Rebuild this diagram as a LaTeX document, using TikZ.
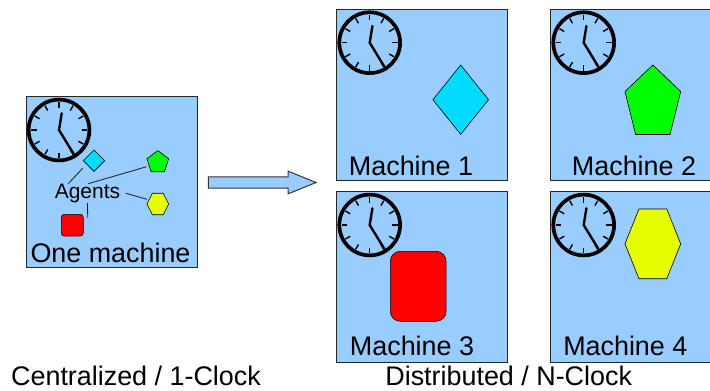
\documentclass[tikz,border=0pt]{standalone}
\usepackage{fontspec}
\usepackage{xcolor}
\setmainfont{Liberation Sans}
\usetikzlibrary{shapes.geometric,shapes.arrows,shapes.misc}
\definecolor{boxblue}{HTML}{99CCFF}
\definecolor{agentcyan}{HTML}{00DCFF}
\definecolor{agentgreen}{HTML}{00FF00}
\definecolor{agentred}{HTML}{FF0000}
\definecolor{agentyellow}{HTML}{E6FF00}
\tikzset{
	machineBox/.style={draw=black!85,fill=boxblue,line width=1pt,minimum size=171pt,inner sep=0pt,outer sep=0pt},
	bigText/.style={anchor=base,inner sep=0pt,font=\fontsize{26.9pt}{30pt}\selectfont},
	agentsText/.style={anchor=base,inner sep=0pt,font=\fontsize{21pt}{25pt}\selectfont},
	agentShape/.style={draw=black,line width=0.6pt,inner sep=0pt,outer sep=0pt},
	polyShape/.style={agentShape,regular polygon,regular polygon sides=#1},
	clockface/.pic={
		\draw[line width=3.7pt] (0,0) circle (30.4pt);
		\foreach \a in {0,30,...,330}
			\draw[line width=1.4pt] (\a:22.5pt) -- (\a:28pt);
		\draw[line width=2.4pt,line cap=round] (2.7,-16.7) -- (0,0) -- (14.7,24);
	}
}
\begin{document}
\begin{tikzpicture}[x=1pt,y=-1pt]
			\useasboundingbox (0,0) rectangle (710,391);
			\clip (0,0) rectangle (710,391);
			% machine boxes
			\node[machineBox] (One) at (111.5,181.7) {};
			\node[machineBox] (M1) at (422.2,94.7) {};
			\node[machineBox] (M2) at (635.5,94.7) {};
			\node[machineBox] (M3) at (422.2,276.7) {};
			\node[machineBox] (M4) at (635.5,276.7) {};
			%
			\foreach \cx/\cy in {59/130,369.7/42.7,583.7/42.7,369.7/225,583.7/225}
				\pic at (\cx,\cy) {clockface};
			%
			\node[agentShape,fill=agentcyan,diamond,minimum width=21.3pt,minimum height=21.3pt] (agentDiamond) at (94,160.7) {};
			\node[polyShape=5,fill=agentgreen,minimum size=22.8pt,yscale=1.02,transform shape] (agentPentagon) at (157.8,162.3) {};
			\node[polyShape=6,fill=agentyellow,minimum size=21.7pt,yscale=1.14,transform shape] (agentHexagon) at (157.8,204) {};
			\node[agentShape,fill=agentred,rectangle,rounded corners=3pt,minimum width=22pt,minimum height=21.7pt] (agentSquare) at (72.3,225.2) {};
			%
			\node[agentShape,fill=agentcyan,diamond,minimum width=55.6pt,minimum height=69.3pt] (bigDiamond) at (460.7,99.7) {};
			\node[polyShape=5,fill=agentgreen,minimum size=58.6pt,yscale=1.31,transform shape] (bigPentagon) at (652.85,103.4) {};
			\node[agentShape,fill=agentred,rectangle,rounded corners=10pt,minimum width=55.7pt,minimum height=70pt] (bigSquare) at (418.2,286.3) {};
			\node[polyShape=6,fill=agentyellow,minimum size=55.7pt,yscale=1.445,transform shape] (bigHexagon) at (652.85,243.85) {};
			%
			\node[agentsText] (Agents) at (87.5,198.3) {Agents};
			\node[bigText] (OneLabel) at (110.5,262.7) {One machine};
			\node[bigText] (M1Label) at (411,175) {Machine 1};
			\node[bigText] (M2Label) at (634,175) {Machine 2};
			\node[bigText] (M3Label) at (412,355) {Machine 3};
			\node[bigText] (M4Label) at (625.3,355) {Machine 4};
			\node[bigText] (CentralLabel) at (136,385) {Centralized / 1-Clock};
			\node[bigText] (DistLabel) at (508.7,385.4) {Distributed / N-Clock};
			%
			\node[draw=black!80,fill=boxblue,line width=1pt,single arrow,single arrow head extend=5.6pt,
				single arrow tip angle=44,single arrow head indent=0pt,minimum height=107.7pt,
				minimum width=21.6pt,inner sep=5.2pt,outer sep=0pt] (moveArrow) at (255.2,182.5) {};
			%
			\path[draw=black!90,line width=0.8pt]
				([xshift=-19.2pt]Agents.north) edge ([xshift=-11.3pt,yshift=3.1pt]agentDiamond.south)
				([xshift=0.8pt]Agents.north) edge ([xshift=-1.5pt,yshift=-4.4pt]agentPentagon.west)
				([xshift=5.3pt]Agents.east) edge ([yshift=4.7pt]agentHexagon.west)
				(Agents.south) edge ([xshift=4.4pt,yshift=7.5pt]agentSquare.east);
		\end{tikzpicture}
\end{document}
